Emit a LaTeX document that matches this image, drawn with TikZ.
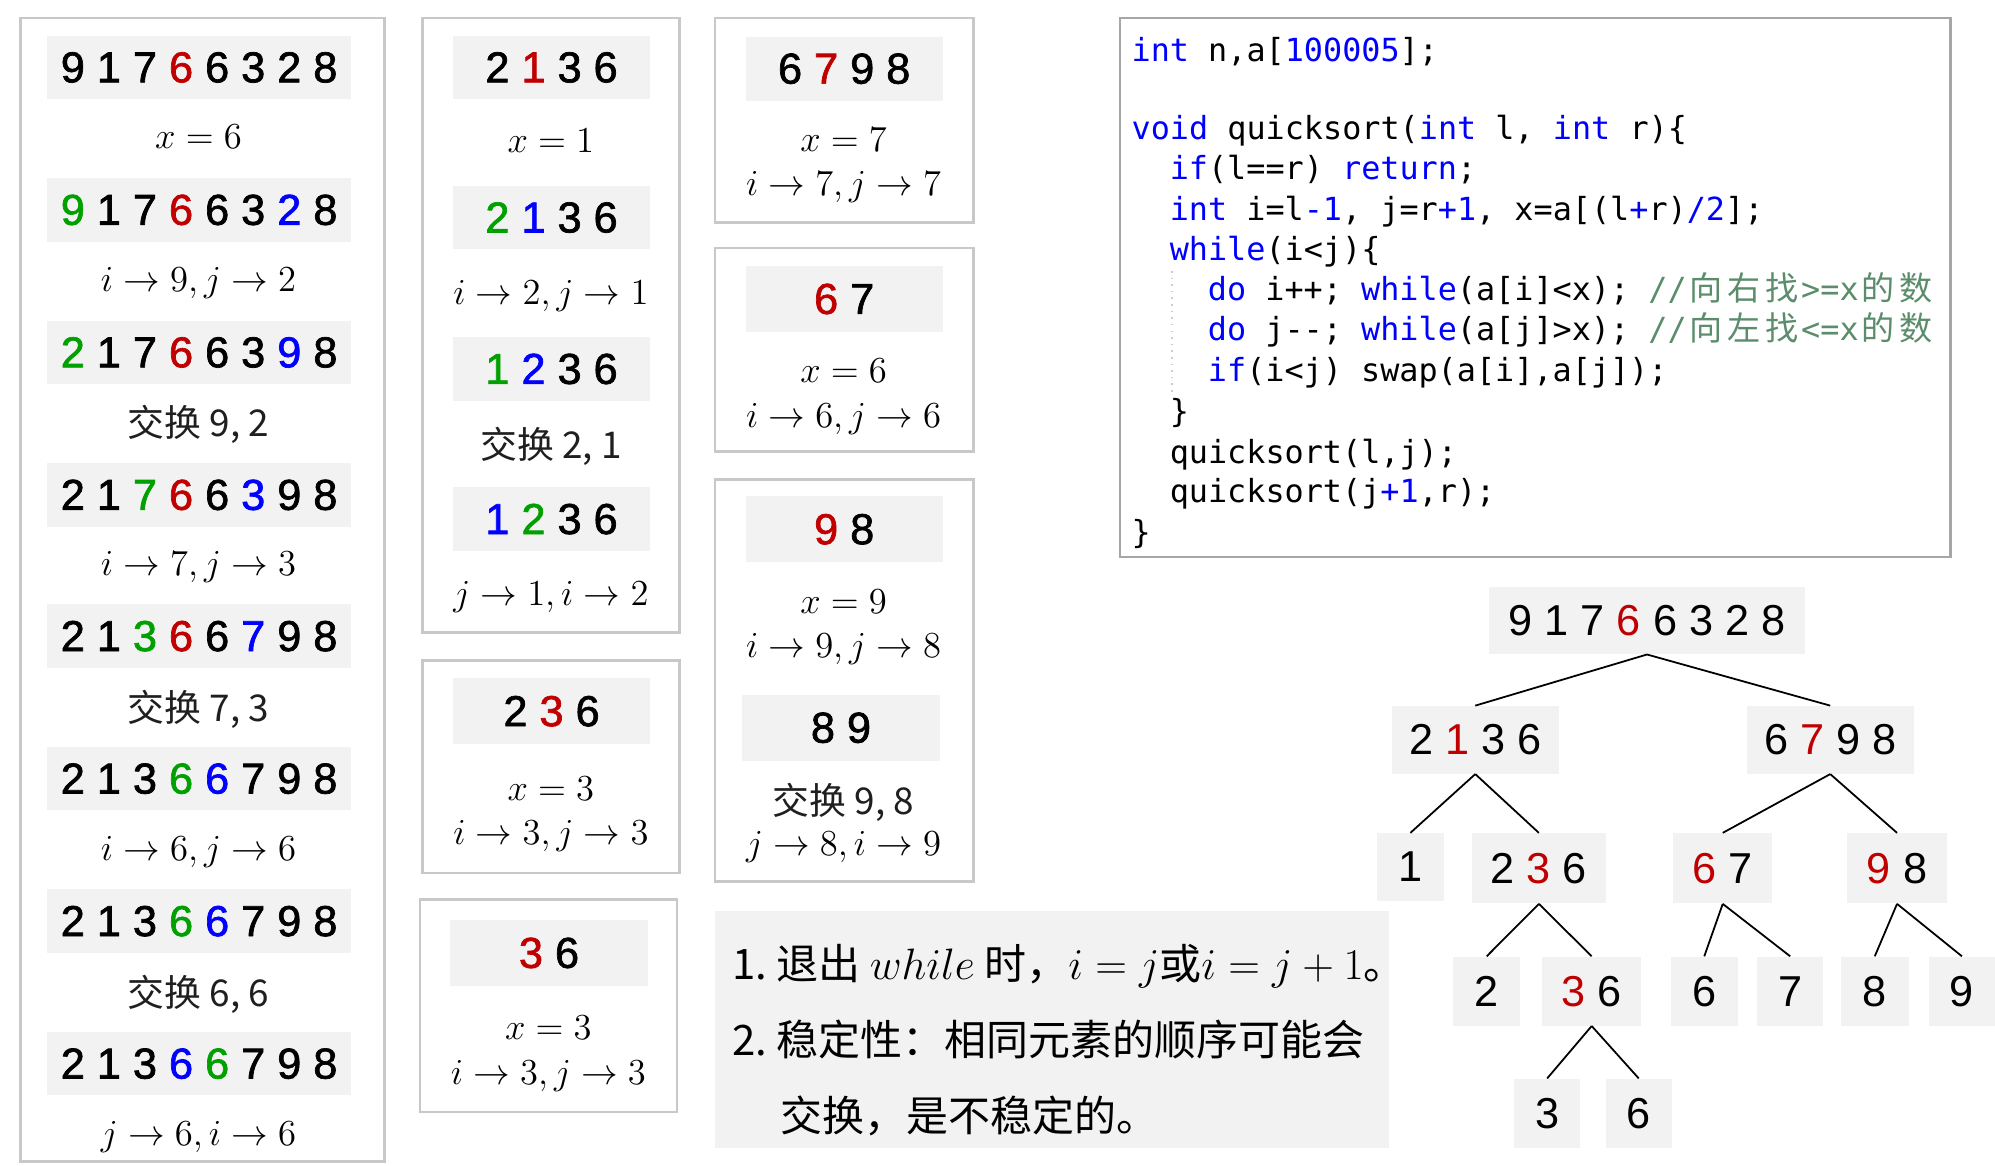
\documentclass[tikz,border=0pt]{standalone}
\usepackage{fontspec}
\usepackage{xcolor}
\newfontfamily\cjk{Noto Sans CJK SC}
\newfontfamily\digf{Liberation Sans}
\newfontfamily\digm{Liberation Sans}[FakeBold=1.6]
\newfontfamily\codef{DejaVu Sans Mono}
\definecolor{qred}{HTML}{C00000}
\definecolor{qgreen}{HTML}{00A000}
\definecolor{qblue}{HTML}{0000FF}
\definecolor{gbg}{HTML}{F2F2F2}
\definecolor{frm}{HTML}{C8C8C8}
\definecolor{codefrm}{HTML}{A6A6A6}
\definecolor{kwc}{HTML}{0000FF}
\definecolor{cmtc}{HTML}{5B8C6B}
\newcommand\qR[1]{\textcolor{qred}{#1}}
\newcommand\qG[1]{\textcolor{qgreen}{#1}}
\newcommand\qB[1]{\textcolor{qblue}{#1}}
\newcommand\kw[1]{\textcolor{kwc}{#1}}
\newcommand\cm[1]{\textcolor{cmtc}{#1}}
\newcommand\cj[1]{\makebox[15pt]{\fontsize{13}{15}\cjk #1}}
\newcommand\gb[7][gbox]{\node[#1,minimum width=#5*0.5pt,minimum height=#6*0.5pt] (#2) at (#3,#4) {#7};}
\frenchspacing
\begin{document}
\begin{tikzpicture}[x=0.5pt,y=-0.5pt,
  frame/.style={draw=frm,line width=1pt,fill=white},
  gbox/.style={fill=gbg,inner sep=0pt,font=\fontsize{17}{20}\digm},
  tbox/.style={fill=gbg,inner sep=0pt,font=\fontsize{17}{20}\digf},
  mth/.style={font=\fontsize{14}{17}\selectfont,inner sep=0pt,text height=9pt,text depth=0pt},
  cn/.style={font=\fontsize{14.5}{17}\cjk,inner sep=0pt,text height=11pt,text depth=0pt,text=black!88},
  codeline/.style={anchor=west,inner sep=0pt,font=\fontsize{12.5}{15}\codef,text height=8pt,text depth=0pt},
  note/.style={anchor=west,inner sep=0pt,font=\fontsize{16.5}{20}\cjk,text height=12.5pt,text depth=0pt},
  edge/.style={line width=0.7pt,black}]
\useasboundingbox (0,0) rectangle (1568,916);

% ---------- column 1 ----------
\draw[frame] (16,14) rectangle (302,913);
\gb{a1}{156.5}{53}{239}{50}{9 1 7 \qR{6} 6 3 2 8}
\node[mth] (la1) at (156,108) {$x = 6$};
\gb{a2}{156.5}{165}{239}{50}{\qG{9} 1 7 \qR{6} 6 3 \qB{2} 8}
\node[mth] (la2) at (156,220) {$i \to 9, j \to 2$};
\gb{a3}{156.5}{277}{239}{50}{\qG{2} 1 7 \qR{6} 6 3 \qB{9} 8}
\node[cn] (la3) at (156,332) {交换 9, 2};
\gb{a4}{156.5}{389}{239}{50}{2 1 \qG{7} \qR{6} 6 \qB{3} 9 8}
\node[mth] (la4) at (156,443) {$i \to 7, j \to 3$};
\gb{a5}{156.5}{500}{239}{50}{2 1 \qG{3} \qR{6} 6 \qB{7} 9 8}
\node[cn] (la5) at (156,556) {交换 7, 3};
\gb{a6}{156.5}{612}{239}{50}{2 1 3 \qG{6} \qB{6} 7 9 8}
\node[mth] (la6) at (156,667) {$i \to 6, j \to 6$};
\gb{a7}{156.5}{724}{239}{50}{2 1 3 \qG{6} \qB{6} 7 9 8}
\node[cn] (la7) at (156,780) {交换 6, 6};
\gb{a8}{156.5}{836}{239}{50}{2 1 3 \qB{6} \qG{6} 7 9 8}
\node[mth] (la8) at (156,891) {$j \to 6, i \to 6$};

% ---------- column 2 ----------
\draw[frame] (332,14) rectangle (534,497);
\gb{b1}{433.5}{53}{155}{50}{2 \qR{1} 3 6}
\node[mth] (lb1) at (433,111) {$x = 1$};
\gb{b2}{433.5}{171}{155}{50}{\qG{2} \qB{1} 3 6}
\node[mth] (lb2) at (433,230) {$i \to 2, j \to 1$};
\gb{b3}{433.5}{290}{155}{50}{\qG{1} \qB{2} 3 6}
\node[cn] (lb3) at (433,349) {交换 2, 1};
\gb{b4}{433.5}{408}{155}{50}{\qB{1} \qG{2} 3 6}
\node[mth] (lb4) at (433,467) {$j \to 1, i \to 2$};

\draw[frame] (332,519) rectangle (534,686);
\gb{c1}{433.5}{559}{155}{52}{2 \qR{3} 6}
\node[mth] (lc1) at (433,620) {$x = 3$};
\node[mth] (lc2) at (433,655) {$i \to 3, j \to 3$};

\draw[frame] (330,707) rectangle (532,874);
\gb{d1}{431.5}{749}{155}{52}{\qR{3} 6}
\node[mth] (ld1) at (431,808) {$x = 3$};
\node[mth] (ld2) at (431,843) {$i \to 3, j \to 3$};

% ---------- column 3 ----------
\draw[frame] (562,14) rectangle (765,175);
\gb{e1}{663.5}{54}{155}{50}{6 \qR{7} 9 8}
\node[mth] (le1) at (663,110) {$x = 7$};
\node[mth] (le2) at (663,145) {$i \to 7, j \to 7$};

\draw[frame] (562,195) rectangle (765,355);
\gb{f1}{663.5}{235}{155}{52}{\qR{6} 7}
\node[mth] (lf1) at (663,292) {$x = 6$};
\node[mth] (lf2) at (663,327) {$i \to 6, j \to 6$};

\draw[frame] (562,377) rectangle (765,693);
\gb{g1}{663.5}{416}{155}{52}{\qR{9} 8}
\node[mth] (lg1) at (663,473) {$x = 9$};
\node[mth] (lg2) at (663,508) {$i \to 9, j \to 8$};
\gb{g2}{661}{572}{156}{52}{8 9}
\node[cn] (lg3) at (663,629) {交换 9, 8};
\node[mth] (lg4) at (663,663) {$j \to 8, i \to 9$};

% ---------- notes ----------
\fill[gbg] (562,716) rectangle (1092,902);
\node[note] (n1) at (575,757) {1. 退出 {\fontsize{17.5}{20}\selectfont$while$} 时，$i = j$或$i = j + 1$。};
\node[note] (n2) at (575,817) {2. 稳定性：相同元素的顺序可能会};
\node[note] (n3) at (613,877) {交换，是不稳定的。};

% ---------- code ----------
\draw[codefrm,line width=0.8pt,fill=white] (880,14) rectangle (1533,438);
\draw[black!20,dotted,line width=0.6pt] (921,213) -- (921,308);
\node[codeline] (k1) at (889,40) {\kw{int} n,a[\kw{100005}];};
\node[codeline] (k3) at (889,102) {\kw{void} quicksort(\kw{int} l, \kw{int} r)\{};
\node[codeline] (k4) at (919,133) {\kw{if}(l==r) \kw{return};};
\node[codeline] (k5) at (919,165) {\kw{int} i=l\kw{\mbox{-}1}, j=r\kw{+1}, x=a[(l\kw{+}r)\kw{/2}];};
\node[codeline] (k6) at (919,197) {\kw{while}(i<j)\{};
\node[codeline] (k7) at (949,228) {\kw{do} i++; \kw{while}(a[i]<x); \cm{//\cj{向}\cj{右}\cj{找}>=x\cj{的}\cj{数}}};
\node[codeline] (k8) at (949,260) {\kw{do} j\mbox{-}\mbox{-}; \kw{while}(a[j]>x); \cm{//\cj{向}\cj{左}\cj{找}<=x\cj{的}\cj{数}}};
\node[codeline] (k9) at (949,292) {\kw{if}(i<j) swap(a[i],a[j]);};
\node[codeline] (k10) at (919,324) {\}};
\node[codeline] (k11) at (919,356) {quicksort(l,j);};
\node[codeline] (k12) at (919,387) {quicksort(j\kw{+1},r);};
\node[codeline] (k13) at (889,419) {\}};

% ---------- tree ----------
\gb[tbox]{root}{1294.5}{487.5}{249}{53}{9 1 7 \qR{6} 6 3 2 8}
\gb[tbox]{tl}{1159.5}{581.5}{131}{53}{2 \qR{1} 3 6}
\gb[tbox]{tr}{1438.5}{581.5}{131}{53}{6 \qR{7} 9 8}
\gb[tbox]{tll}{1108.5}{681.5}{53}{53}{1}
\gb[tbox]{tlr}{1209.5}{682.5}{105}{55}{2 \qR{3} 6}
\gb[tbox]{trl}{1354}{682.5}{78}{55}{\qR{6} 7}
\gb[tbox]{trr}{1491}{682.5}{78}{55}{\qR{9} 8}
\gb[tbox]{tlrl}{1168.5}{779}{53}{54}{2}
\gb[tbox]{tlrr}{1251}{779}{78}{54}{\qR{3} 6}
\gb[tbox]{trll}{1339.5}{779}{53}{54}{6}
\gb[tbox]{trlr}{1407}{779}{52}{54}{7}
\gb[tbox]{trrl}{1473.5}{779}{53}{54}{8}
\gb[tbox]{trrr}{1542}{779}{52}{54}{9}
\gb[tbox]{tlrrl}{1216}{875}{52}{54}{3}
\gb[tbox]{tlrrr}{1288}{875}{52}{54}{6}

\draw[edge] (root.south) -- (tl.north);
\draw[edge] (root.south) -- (tr.north);
\draw[edge] (tl.south) -- (tll.north);
\draw[edge] (tl.south) -- (tlr.north);
\draw[edge] (tr.south) -- (trl.north);
\draw[edge] (tr.south) -- (trr.north);
\draw[edge] (tlr.south) -- (tlrl.north);
\draw[edge] (tlr.south) -- (tlrr.north);
\draw[edge] (trl.south) -- (trll.north);
\draw[edge] (trl.south) -- (trlr.north);
\draw[edge] (trr.south) -- (trrl.north);
\draw[edge] (trr.south) -- (trrr.north);
\draw[edge] (tlrr.south) -- (tlrrl.north);
\draw[edge] (tlrr.south) -- (tlrrr.north);
\end{tikzpicture}
\end{document}
